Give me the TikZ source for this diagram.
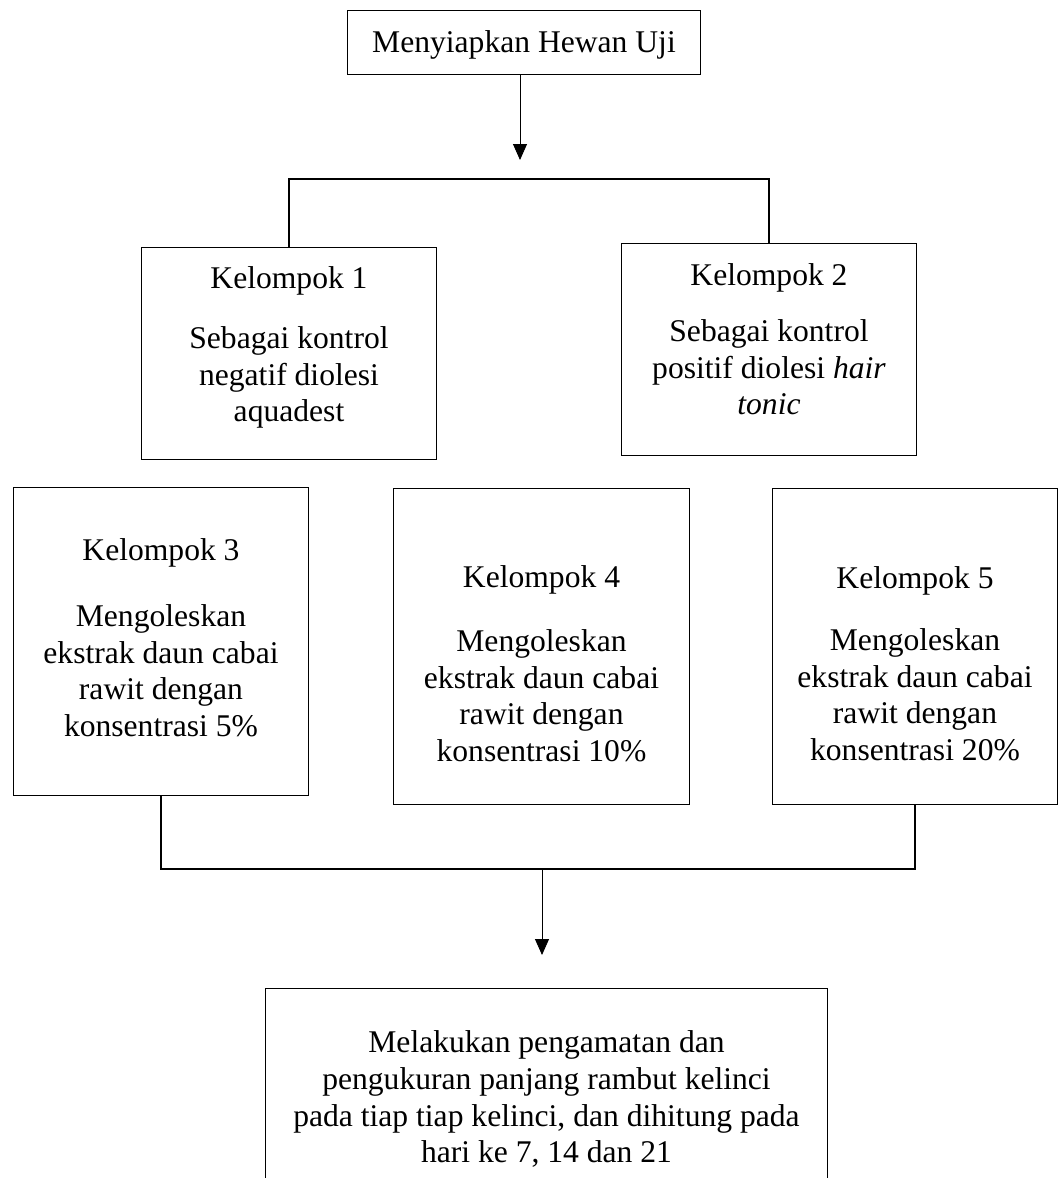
\documentclass[tikz,border=0pt]{standalone}
\usepackage{fontspec}
\setmainfont{Liberation Serif}
\usepackage{tikz}
\usetikzlibrary{arrows.meta}
\newcommand{\teks}{\fontsize{15.8pt}{18.3pt}\selectfont}
% isi kotak: lebar, tinggi, jarak atas, teks
\newcommand{\isikotak}[4]{\parbox[c][#2][t]{#1}{\centering\vspace*{#3}#4\par}}
\tikzset{
  every picture/.append style={font=\teks},
  kotak/.style = {draw, line width=0.5pt, inner sep=0pt, anchor=north west},
  garis/.style = {line width=1pt},
  panah/.style = {-{Triangle[length=8pt,width=7pt]}, line width=0.45pt},
}
\begin{document}
\begin{tikzpicture}[x=0.5pt, y=-0.5pt]
  \useasboundingbox (0,0) rectangle (1059,1178);
  % mulai
  \node[kotak] (siap) at (347,10)
    {\isikotak{176.5pt}{32pt}{10.2pt}{Menyiapkan Hewan Uji}};
  % kontrol
  \node[kotak] (k1) at (141,247)
    {\isikotak{147.5pt}{106pt}{9.7pt}{Kelompok 1\\[11.5pt]
      Sebagai kontrol\\ negatif diolesi\\ aquadest}};
  \node[kotak] (k2) at (621,243)
    {\isikotak{147.5pt}{106pt}{10.2pt}{Kelompok 2\\[9.5pt]
      Sebagai kontrol\\ positif diolesi \textit{hair}\\ \textit{tonic}}};
  % perlakuan
  \foreach \n/\x/\y/\w/\h/\t/\g/\k in {3/13/487/147.5pt/154pt/25.7pt/14.5pt/5,
                                        4/393/488/148pt/158pt/38.7pt/13.5pt/10,
                                        5/772/488/142.5pt/158pt/39.2pt/12.5pt/20}{%
    \node[kotak] (k\n) at (\x,\y)
      {\isikotak{\w}{\h}{\t}{Kelompok \n\\[\g]
        Mengoleskan\\ ekstrak daun cabai\\ rawit dengan\\ konsentrasi \k\%}};}
  % hasil
  \node[kotak] (amat) at (265,988)
    {\isikotak{281pt}{110pt}{21.2pt}{Melakukan pengamatan dan\\
      pengukuran panjang rambut kelinci\\ pada tiap tiap kelinci, dan dihitung pada\\
      hari ke 7, 14 dan 21}};
  \coordinate (a1) at (520,160);
  \coordinate (cabang) at (528,179);
  \coordinate (gabung) at (542,869);
  \coordinate (ujung) at (542,955);
  \draw[panah] (a1 |- siap.south) -- (a1);
  \draw[garis] (k1.north) |- (cabang) -| (k2.north);
  \draw[garis] (k3.south) |- (gabung) -| (k5.south);
  \draw[panah] (gabung) -- (ujung);
\end{tikzpicture}
\end{document}
